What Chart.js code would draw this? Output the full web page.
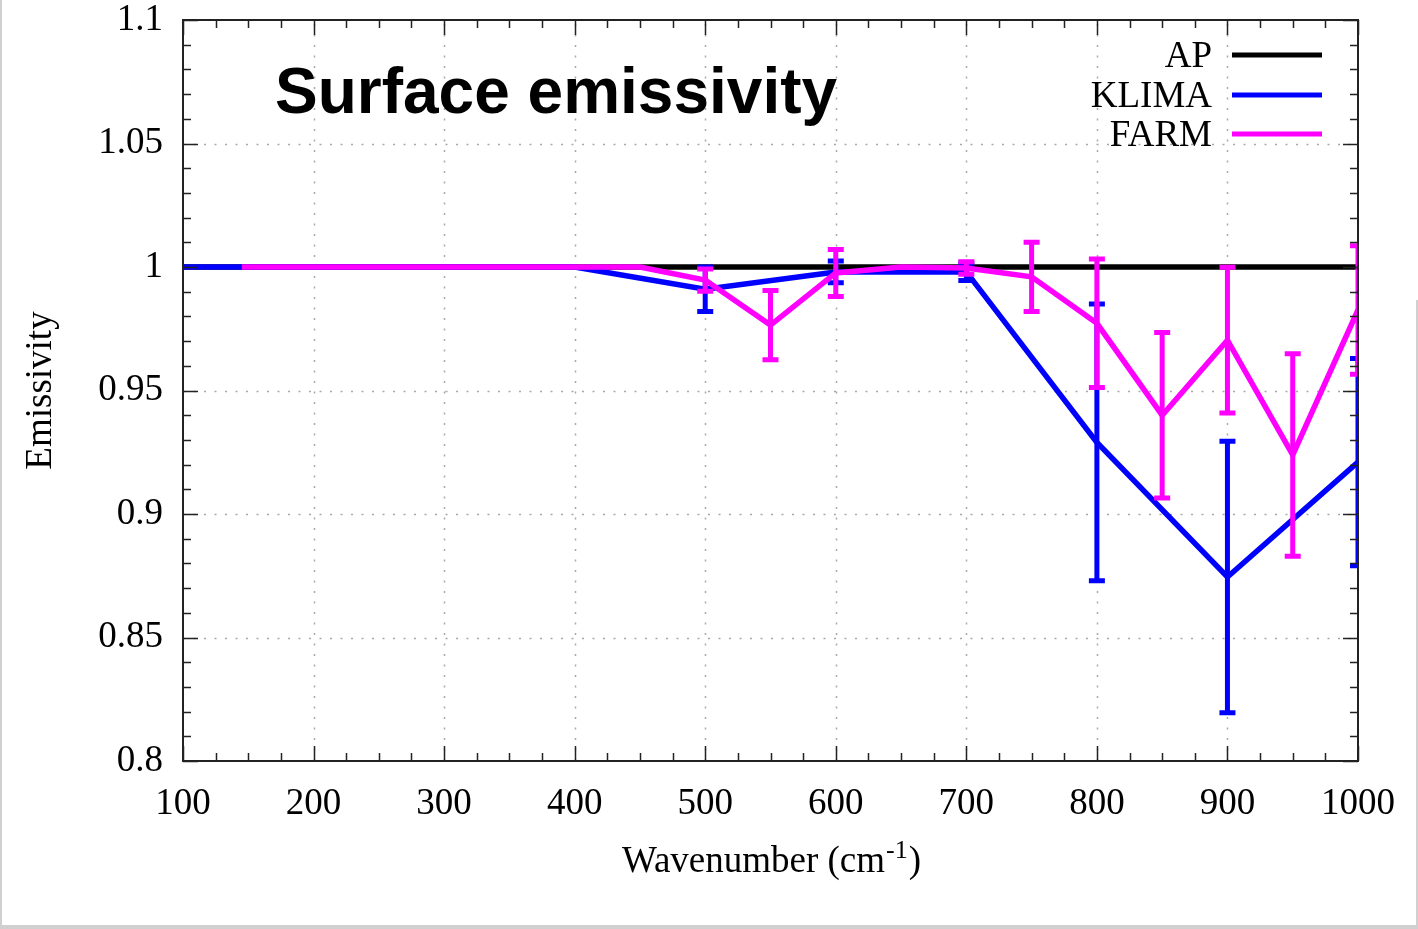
<!DOCTYPE html>
<html>
<head>
<meta charset="utf-8">
<title>Surface emissivity</title>
<script src="https://cdn.jsdelivr.net/npm/chart.js@4.4.1/dist/chart.umd.min.js"></script>
<style>
    html, body { margin: 0; padding: 0; background: #fff; }
    canvas { display: block; }
</style>
</head>
<body>
<canvas id="emis" width="1418" height="929"></canvas>
<script>
/* =========================
   DATA
========================= */
const titleText = "Surface emissivity";

const apX = [100, 1000];
const apY = [1, 1];

const klimaX   = [100, 200, 300, 400, 500, 600, 700, 800, 900, 1000];
const klimaY   = [1, 1, 1, 1, 0.991, 0.998, 0.998, 0.929, 0.8745, 0.921];
const klimaErr = [0, 0, 0, 0, 0.009, 0.0044, 0.0035, 0.056, 0.055, 0.042];

const farmX   = [145, 450, 500, 550, 600, 650, 700, 750, 800, 850, 900, 950, 1000];
const farmY   = [1, 1, 0.9947, 0.9765, 0.9976, 1, 0.9996, 0.996, 0.9772, 0.94, 0.9704, 0.9239, 0.9826];
const farmErr = [0, 0, 0.0045, 0.014, 0.0095, 0, 0.0025, 0.014, 0.026, 0.0335, 0.0295, 0.041, 0.026];

const xTicks = [100, 200, 300, 400, 500, 600, 700, 800, 900, 1000];
const xTickLabels = ["100", "200", "300", "400", "500", "600", "700", "800", "900", "1000"];
const yTicks = [0.8, 0.85, 0.9, 0.95, 1, 1.05, 1.1];
const yTickLabels = ["0.8", "0.85", "0.9", "0.95", "1", "1.05", "1.1"];

const xMinorStep = 25;
const yMinorStep = 0.01;

const SERIF = "'Liberation Serif', 'Times New Roman', serif";
const SANS = "'Liberation Sans', Arial, sans-serif";
const FS = 37;

function pts(xs, ys) {
    return xs.map((x, i) => ({ x: x, y: ys[i] }));
}

/* =========================
   PLUGIN: grid, frame, ticks, error bars, key
========================= */
const gnuplotLook = {
    id: "gnuplotLook",
    beforeDatasetsDraw(chart) {
        const { ctx, chartArea: a, scales: { x, y } } = chart;
        ctx.save();
        ctx.strokeStyle = "#a8a8a8";
        ctx.lineWidth = 1.5;
        ctx.setLineDash([2, 8.5]);
        xTicks.forEach(v => {
            const px = Math.round(x.getPixelForValue(v)) + 0.5;
            if (px <= a.left + 2 || px >= a.right - 2) return;
            ctx.beginPath(); ctx.moveTo(px, a.bottom); ctx.lineTo(px, a.top); ctx.stroke();
        });
        yTicks.forEach(v => {
            const py = Math.round(y.getPixelForValue(v)) + 0.5;
            if (py <= a.top + 2 || py >= a.bottom - 2) return;
            ctx.beginPath(); ctx.moveTo(a.left, py); ctx.lineTo(a.right, py); ctx.stroke();
        });
        ctx.restore();
    },
    afterDatasetDraw(chart, args) {
        const ds = chart.data.datasets[args.index];
        if (!ds.errors) return;
        const { ctx, chartArea: a, scales: { x, y } } = chart;
        ctx.save();
        ctx.beginPath();
        ctx.rect(a.left, a.top, a.right - a.left, a.bottom - a.top);
        ctx.clip();
        ctx.strokeStyle = ds.borderColor;
        ctx.lineWidth = 5;
        ds.data.forEach((p, i) => {
            const e = ds.errors[i];
            if (!e) return;
            const px = x.getPixelForValue(p.x);
            const top = y.getPixelForValue(p.y + e);
            const bot = y.getPixelForValue(p.y - e);
            ctx.beginPath();
            ctx.moveTo(px, top); ctx.lineTo(px, bot);
            ctx.moveTo(px - 8, top); ctx.lineTo(px + 8, top);
            ctx.moveTo(px - 8, bot); ctx.lineTo(px + 8, bot);
            ctx.stroke();
        });
        ctx.restore();
    },
    afterDraw(chart) {
        const { ctx, chartArea: a, scales: { x, y } } = chart;
        ctx.save();

        // frame
        ctx.strokeStyle = "#222";
        ctx.lineWidth = 2;
        ctx.strokeRect(a.left, a.top, a.right - a.left, a.bottom - a.top);

        // inward ticks on all four sides
        ctx.lineWidth = 1.5;
        ctx.beginPath();
        for (let v = xTicks[0]; v <= xTicks[xTicks.length - 1] + 0.001; v += xMinorStep) {
            const px = Math.round(x.getPixelForValue(v)) + 0.5;
            const len = xTicks.includes(Math.round(v)) ? 15 : 8;
            ctx.moveTo(px, a.bottom); ctx.lineTo(px, a.bottom - len);
            ctx.moveTo(px, a.top); ctx.lineTo(px, a.top + len);
        }
        for (let k = 0; k <= 30; k++) {
            const v = 0.8 + k * yMinorStep;
            const py = Math.round(y.getPixelForValue(v)) + 0.5;
            const len = k % 5 === 0 ? 15 : 8;
            ctx.moveTo(a.left, py); ctx.lineTo(a.left + len, py);
            ctx.moveTo(a.right, py); ctx.lineTo(a.right - len, py);
        }
        ctx.stroke();

        // title inside plot
        ctx.fillStyle = "#000";
        ctx.font = "bold 64px " + SANS;
        ctx.textAlign = "left";
        ctx.textBaseline = "alphabetic";
        ctx.fillText(titleText, 275, 113);

        // key (gnuplot style: text then sample line)
        ctx.font = FS + "px " + SERIF;
        ctx.textAlign = "right";
        ctx.textBaseline = "middle";
        const rowY = [55, 95, 134];
        chart.data.datasets.forEach((ds, i) => {
            ctx.fillStyle = "#000";
            ctx.fillText(ds.label, 1212, rowY[i] + 2);
            ctx.strokeStyle = ds.borderColor;
            ctx.lineWidth = 5;
            ctx.beginPath();
            ctx.moveTo(1232, rowY[i]); ctx.lineTo(1322, rowY[i]);
            ctx.stroke();
        });

        // x axis title with superscript
        const cx = (a.left + a.right) / 2;
        const base = 872;
        const main = "Wavenumber (cm";
        const sup = "-1";
        const close = ")";
        ctx.textBaseline = "alphabetic";
        ctx.textAlign = "left";
        ctx.font = FS + "px " + SERIF;
        const wMain = ctx.measureText(main).width;
        const wClose = ctx.measureText(close).width;
        ctx.font = "26px " + SERIF;
        const wSup = ctx.measureText(sup).width;
        let sx = cx - (wMain + wSup + wClose) / 2;
        ctx.font = FS + "px " + SERIF;
        ctx.fillText(main, sx, base);
        ctx.font = "26px " + SERIF;
        ctx.fillText(sup, sx + wMain + 1, base - 14);
        ctx.font = FS + "px " + SERIF;
        ctx.fillText(close, sx + wMain + wSup + 2, base);

        // light grey page edge
        ctx.fillStyle = "#d0d0d0";
        ctx.fillRect(0, 0, 2, chart.height);
        ctx.fillRect(0, chart.height - 4, chart.width, 4);
        ctx.fillRect(chart.width - 2, 300, 2, chart.height - 300);
        ctx.restore();
    }
};

/* =========================
   CHART
========================= */
new Chart(document.getElementById("emis"), {
    type: "line",
    data: {
        datasets: [{
            label: "AP",
            data: pts(apX, apY),
            borderColor: "#000000",
            borderWidth: 5.5,
            pointRadius: 0,
            order: 3
        }, {
            label: "KLIMA",
            data: pts(klimaX, klimaY),
            errors: klimaErr,
            borderColor: "#0000ff",
            borderWidth: 5.5,
            pointRadius: 0,
            order: 2
        }, {
            label: "FARM",
            data: pts(farmX, farmY),
            errors: farmErr,
            borderColor: "#ff00ff",
            borderWidth: 5.5,
            pointRadius: 0,
            order: 1
        }]
    },
    options: {
        responsive: false,
        animation: false,
        devicePixelRatio: 1,
        layout: { padding: { top: 20, right: 60, left: 0, bottom: 0 } },
        plugins: {
            legend: { display: false },
            tooltip: { enabled: false }
        },
        scales: {
            x: {
                type: "linear",
                min: 100,
                max: 1000,
                afterBuildTicks: s => { s.ticks = xTicks.map(v => ({ value: v })); },
                afterFit: s => { s.height = 168; s.paddingLeft = 0; s.paddingRight = 0; },
                ticks: {
                    color: "#000",
                    padding: 25,
                    maxRotation: 0,
                    font: { family: SERIF, size: FS, lineHeight: 1 },
                    callback: (v, i) => xTickLabels[i]
                },
                grid: { display: false, drawTicks: false },
                border: { display: false }
            },
            y: {
                type: "linear",
                min: 0.8,
                max: 1.1,
                afterBuildTicks: s => { s.ticks = yTicks.map(v => ({ value: v })); },
                afterFit: s => { s.width = 183; s.paddingTop = 0; s.paddingBottom = 0; },
                ticks: {
                    color: "#000",
                    padding: 20,
                    font: { family: SERIF, size: FS, lineHeight: 1 },
                    callback: (v, i) => yTickLabels[i]
                },
                grid: { display: false, drawTicks: false },
                border: { display: false },
                title: {
                    display: true,
                    text: "Emissivity",
                    color: "#000",
                    font: { family: SERIF, size: FS, lineHeight: 1.2 },
                    padding: { top: 19, bottom: 0 }
                }
            }
        }
    },
    plugins: [gnuplotLook]
});
</script>
</body>
</html>
